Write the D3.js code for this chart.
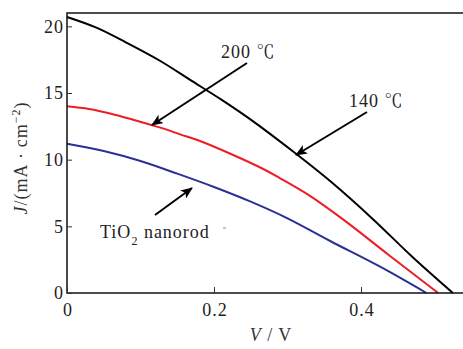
<!DOCTYPE html>
<html>
<head>
<meta charset="utf-8">
<script src="https://cdn.jsdelivr.net/npm/d3@7"></script>
<style>
  body { margin: 0; background: #fff; }
  #chart svg, #chart svg text, #chart svg g { font-family: "Liberation Serif", "Noto Serif CJK SC", serif !important; }
  #chart svg text { letter-spacing: 1px; }
</style>
</head>
<body>
<div id="chart"></div>
<script>
// J-V curves (V in volts, J in mA/cm^2)
const v140 = [0, 0.04, 0.08, 0.127, 0.167, 0.21, 0.25, 0.3125, 0.36, 0.417, 0.47, 0.525];
const j140 = [20.7, 19.9, 18.8, 17.4, 16.0, 14.5, 13.0, 10.4, 8.3, 5.5, 2.7, 0];

const v200 = [0, 0.03, 0.06, 0.09, 0.127, 0.154, 0.181, 0.22, 0.267, 0.29, 0.33, 0.376, 0.439, 0.505];
const j200 = [14.0, 13.8, 13.45, 13.0, 12.4, 11.9, 11.4, 10.5, 9.3, 8.6, 7.3, 5.5, 2.8, 0];

const vRod = [0, 0.05, 0.1, 0.15, 0.2, 0.25, 0.3, 0.358, 0.426, 0.489];
const jRod = [11.2, 10.65, 9.9, 8.95, 7.95, 6.85, 5.6, 3.9, 1.97, 0];

const xTicks = [0, 0.2, 0.4];
const yTicks = [0, 5, 10, 15, 20];

const width = 463, height = 349;
const margin = { left: 67, top: 13, bottom: 56 };

const svg = d3.select("#chart").append("svg")
  .attr("width", width)
  .attr("height", height);

const x = d3.scaleLinear().domain([0, 0.55]).range([margin.left, margin.left + 0.55 * 735]);
const y = d3.scaleLinear().domain([0, 21]).range([height - margin.bottom, margin.top]);

svg.append("defs").append("marker")
  .attr("id", "arrow")
  .attr("viewBox", "0 0 12 10")
  .attr("refX", 11)
  .attr("refY", 5)
  .attr("markerWidth", 12)
  .attr("markerHeight", 10)
  .attr("markerUnits", "userSpaceOnUse")
  .attr("orient", "auto")
  .append("path")
  .attr("d", "M0,0 L12,5 L0,10 L3,5 Z")
  .attr("fill", "#000");

// curves
const line = d3.line()
  .x(d => x(d[0]))
  .y(d => y(d[1]))
  .curve(d3.curveCatmullRom.alpha(0.5));

const series = [
  { v: vRod, j: jRod, color: "#2b3095" },
  { v: v200, j: j200, color: "#ee1c25" },
  { v: v140, j: j140, color: "#000000" }
];

svg.append("g").selectAll("path")
  .data(series)
  .enter()
  .append("path")
  .attr("d", s => line(s.v.map((v, i) => [v, s.j[i]])))
  .attr("fill", "none")
  .attr("stroke", s => s.color)
  .attr("stroke-width", 2);

// frame (right side runs off the picture)
const x0 = x(0), x1 = width + 5, yb = y(0), yt = margin.top;
svg.append("path")
  .attr("d", `M${x1},${yt} L${x0},${yt} L${x0},${yb} L${x1},${yb}`)
  .attr("fill", "none")
  .attr("stroke", "#111")
  .attr("stroke-width", 1.5);

// axes with inward ticks
const xAxis = svg.append("g")
  .attr("transform", `translate(0,${yb})`)
  .call(d3.axisBottom(x).tickValues(xTicks).tickSize(-6).tickPadding(10)
    .tickFormat(d => d === 0 ? "0" : d3.format(".1f")(d)));
xAxis.select(".domain").remove();
xAxis.selectAll("line").attr("stroke", "#333");
xAxis.attr("font-size", 18);
xAxis.selectAll("text").attr("fill", "#222").attr("dx", "0.5");

const yAxis = svg.append("g")
  .attr("transform", `translate(${x0},0)`)
  .call(d3.axisLeft(y).tickValues(yTicks).tickSize(-5).tickPadding(3));
yAxis.select(".domain").remove();
yAxis.selectAll("line").attr("stroke", "#333");
yAxis.attr("font-size", 18);
yAxis.selectAll("text").attr("fill", "#222");

// axis titles
svg.append("text")
  .attr("transform", `translate(27,158) rotate(-90)`)
  .attr("text-anchor", "middle")
  .attr("font-size", 18)
  .attr("fill", "#333")
  .html('<tspan font-style="italic">J</tspan>/(mA\u2009\u00b7\u2009cm<tspan baseline-shift="super" font-size="12">\u22122</tspan>)');

svg.append("text")
  .attr("x", 271)
  .attr("y", 341)
  .attr("text-anchor", "middle")
  .attr("font-size", 18)
  .attr("fill", "#333")
  .html('<tspan font-style="italic">V</tspan> / V');

// annotations
const notes = [
  { text: "200 \u2103", tx: 221, ty: 58, from: [247, 63], to: [152, 125] },
  { text: "140 \u2103", tx: 349, ty: 107, from: [367, 112], to: [296, 155] },
  { text: "TiO<tspan baseline-shift='sub' font-size='12'>2</tspan> nanorod", tx: 100, ty: 238, from: [155, 215], to: [192, 188] }
];

svg.append("g").selectAll("line")
  .data(notes)
  .enter()
  .append("line")
  .attr("x1", d => d.from[0]).attr("y1", d => d.from[1])
  .attr("x2", d => d.to[0]).attr("y2", d => d.to[1])
  .attr("stroke", "#000")
  .attr("stroke-width", 2)
  .attr("marker-end", "url(#arrow)");

svg.append("g").selectAll("text")
  .data(notes)
  .enter()
  .append("text")
  .attr("x", d => d.tx)
  .attr("y", d => d.ty)
  .attr("font-size", 18)
  .attr("fill", "#222")
  .html(d => d.text);

// small stray dash next to the nanorod label
svg.append("line")
  .attr("x1", 223).attr("x2", 226)
  .attr("y1", 228).attr("y2", 228)
  .attr("stroke", "#888");
</script>
</body>
</html>
